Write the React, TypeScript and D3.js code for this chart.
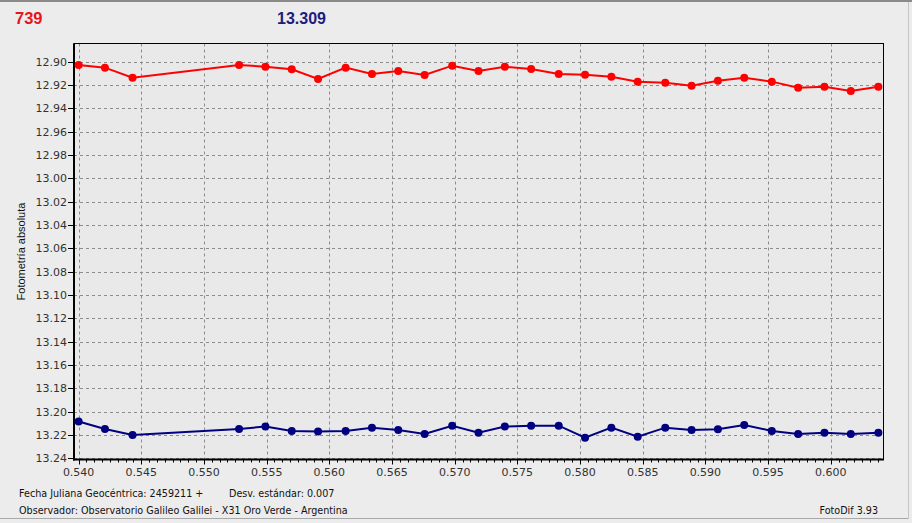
import React from "react";
import * as d3 from "d3";

const W = 912;
const H = 523;

// time (fraction of JD 2459211)
const jd: number[] = [
  0.5400, 0.5421, 0.5443, 0.5528, 0.5549, 0.5570, 0.5591, 0.5613, 0.5634, 0.5655,
  0.5676, 0.5698, 0.5719, 0.5740, 0.5761, 0.5783, 0.5804, 0.5825, 0.5846, 0.5868,
  0.5889, 0.5910, 0.5931, 0.5953, 0.5974, 0.5995, 0.6016, 0.6038,
];
// red series (variable)
const redMag: number[] = [
  12.9028, 12.9051, 12.9137, 12.9028, 12.9043, 12.9065, 12.9148, 12.9051, 12.9105, 12.9080,
  12.9114, 12.9034, 12.9080, 12.9043, 12.9063, 12.9105, 12.9111, 12.9129, 12.9171, 12.9180,
  12.9206, 12.9163, 12.9137, 12.9171, 12.9223, 12.9214, 12.9251, 12.9214,
];
// blue series (comparison)
const blueMag: number[] = [
  13.2085, 13.2148, 13.2199, 13.2148, 13.2128, 13.2165, 13.2171, 13.2165, 13.2137, 13.2157,
  13.2191, 13.2120, 13.2180, 13.2128, 13.2120, 13.2120, 13.2223, 13.2137, 13.2214, 13.2137,
  13.2157, 13.2151, 13.2114, 13.2165, 13.2191, 13.2180, 13.2191, 13.2180,
];

const xTicks: number[] = [0.540, 0.545, 0.550, 0.555, 0.560, 0.565, 0.570, 0.575, 0.580, 0.585, 0.590, 0.595, 0.600];
const yTicks: number[] = [
  12.90, 12.92, 12.94, 12.96, 12.98, 13.00, 13.02, 13.04, 13.06, 13.08,
  13.10, 13.12, 13.14, 13.16, 13.18, 13.20, 13.22, 13.24,
];
const xDomain: [number, number] = [0.53963, 0.60421];
const yDomain: [number, number] = [12.8844, 13.241];

const headerLeft = "739";
const headerRight = "13.309";
const yLabel = "Fotometría absoluta";
const footer1a = "Fecha Juliana Geocéntrica: 2459211 +";
const footer1b = "Desv. estándar: 0.007";
const footer2 = "Observador: Observatorio Galileo Galilei - X31 Oro Verde - Argentina";
const footerRight = "FotoDif 3.93";

const PL = 74, PR = 883.5, PT = 43.5, PB = 459.5;

export default function App() {
  const x = d3.scaleLinear().domain(xDomain).range([PL, PR]);
  const y = d3.scaleLinear().domain(yDomain).range([PT, PB]);
  const redPts = jd.map((t, i) => [t, redMag[i]] as [number, number]);
  const bluePts = jd.map((t, i) => [t, blueMag[i]] as [number, number]);
  const line = d3.line<[number, number]>().x(d => x(d[0])).y(d => y(d[1]));
  const minor = d3.range(0.540, 0.6042, 0.000625);
  const font = "'DejaVu Sans', Verdana, sans-serif";
  const sans = "'Liberation Sans', Arial, sans-serif";
  const red = "#ff0000";
  const navy = "#000080";

  return (
    <svg width={W} height={H} style={{ position: "fixed", left: 0, top: 0, display: "block" }}>
      <rect x={0} y={0} width={W} height={H} fill="#ececec" />
      <line x1={0} x2={W} y1={1} y2={1} stroke="#8a8a8a" strokeWidth={2} />
      <line x1={0} x2={909} y1={518.5} y2={518.5} stroke="#a8a8a8" strokeWidth={1} />
      <line x1={908.5} x2={908.5} y1={2} y2={519} stroke="#c4c4c4" strokeWidth={1} />

      <text x={15} y={24} fill="#e8141c" fontFamily={sans} fontWeight="bold" fontSize={16.5}>{headerLeft}</text>
      <text x={277} y={24} fill="#1c1c80" fontFamily={sans} fontWeight="bold" fontSize={16}>{headerRight}</text>

      <rect x={PL} y={PT} width={PR - PL} height={PB - PT} fill="#e9e9e9" />
      {yTicks.map(v => (
        <line key={"gy" + v} x1={PL} x2={PR} y1={Math.round(y(v)) + 0.5} y2={Math.round(y(v)) + 0.5}
          stroke="#8c8c8c" strokeDasharray="3,3" strokeWidth={1} />
      ))}
      {xTicks.map(v => (
        <line key={"gx" + v} x1={Math.round(x(v)) + 0.5} x2={Math.round(x(v)) + 0.5} y1={PT} y2={PB}
          stroke="#8c8c8c" strokeDasharray="3,3" strokeWidth={1} />
      ))}
      <rect x={PL} y={PT} width={PR - PL} height={PB - PT} fill="none" stroke="#000" strokeWidth={1} />
      <line x1={PL} x2={PL} y1={PT} y2={PB + 1} stroke="#000" strokeWidth={2} />
      <line x1={PL - 1} x2={PR + 0.5} y1={PB} y2={PB} stroke="#000" strokeWidth={2} />

      {yTicks.map(v => (
        <g key={"ty" + v}>
          <line x1={PL - 6} x2={PL} y1={Math.round(y(v)) + 0.5} y2={Math.round(y(v)) + 0.5} stroke="#000" />
          <text x={PL - 7} y={y(v) + 4} textAnchor="end" fontFamily={font} fontSize={11} fill="#333">{v.toFixed(2)}</text>
        </g>
      ))}
      {minor.map((v, i) => (
        <line key={"mx" + i} x1={Math.round(x(v)) + 0.5} x2={Math.round(x(v)) + 0.5} y1={PB} y2={PB + 3} stroke="#000" />
      ))}
      {xTicks.map(v => (
        <g key={"tx" + v}>
          <line x1={Math.round(x(v)) + 0.5} x2={Math.round(x(v)) + 0.5} y1={PB} y2={PB + 5} stroke="#000" />
          <text x={x(v)} y={476} textAnchor="middle" fontFamily={font} fontSize={11} fill="#333">{v.toFixed(3)}</text>
        </g>
      ))}

      <text transform={`translate(25,${(PT + PB) / 2}) rotate(-90)`} textAnchor="middle" fontFamily={sans} fontSize={11} fill="#111">{yLabel}</text>

      <path d={line(redPts) || ""} fill="none" stroke={red} strokeWidth={2} />
      {redPts.map((p, i) => <circle key={"r" + i} cx={x(p[0])} cy={y(p[1])} r={4} fill={red} />)}
      <path d={line(bluePts) || ""} fill="none" stroke={navy} strokeWidth={2} />
      {bluePts.map((p, i) => <circle key={"b" + i} cx={x(p[0])} cy={y(p[1])} r={4} fill={navy} />)}

      <text x={19} y={497} fontFamily={font} fontSize={9.6} fill="#111">{footer1a}</text>
      <text x={229} y={497} fontFamily={font} fontSize={9.6} fill="#111">{footer1b}</text>
      <text x={19} y={514} fontFamily={font} fontSize={9.6} fill="#111">{footer2}</text>
      <text x={878} y={514} textAnchor="end" fontFamily={font} fontSize={9.6} fill="#111">{footerRight}</text>
    </svg>
  );
}
